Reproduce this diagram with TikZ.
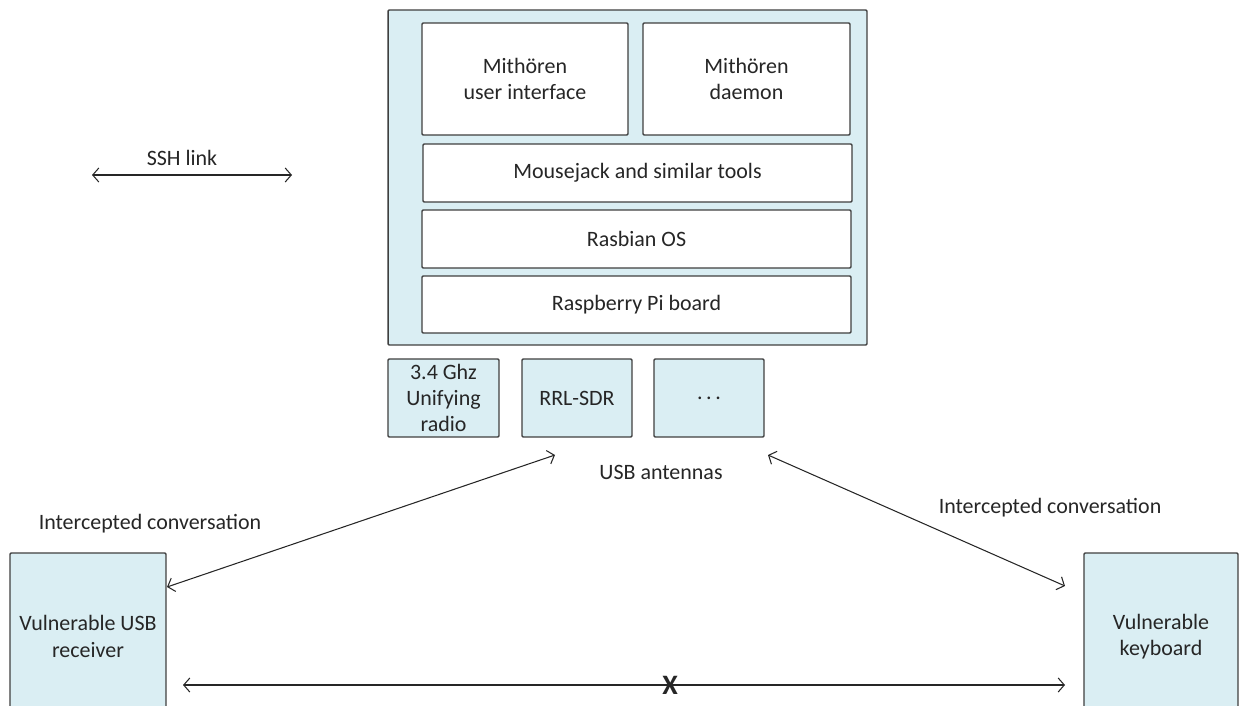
\documentclass[tikz,border=0pt]{standalone}
\usepackage{fontspec}
\setmainfont{Carlito}
\usetikzlibrary{arrows.meta}
\definecolor{paleblue}{HTML}{DAEEF3}
\definecolor{edgegray}{HTML}{3F3F3F}
\tikzset{
  layer/.style={draw=edgegray, fill=white, line width=0.8pt, rounded corners=0.6pt, align=center, inner sep=0pt, text=black!85},
  antenna/.style={layer, fill=paleblue},
  label/.style={text=black!85, inner sep=0pt},
  link/.style={line width=0.6pt, black!85, {Straight Barb[length=3.5pt,width=8pt]}-{Straight Barb[length=3.5pt,width=8pt]}}
}
\begin{document}
\begin{tikzpicture}[x=0.02cm, y=-0.02cm, font=\fontsize{12.5}{15}\selectfont]
        \useasboundingbox (0,0) rectangle (1241,706);
        \clip (0,0) rectangle (1241,706);
        % raspberry pi stack
        \node [antenna, minimum width=9.58cm, minimum height=6.70cm] (pi) at (627.5,177.5) {};
        \node [layer, minimum width=4.12cm, minimum height=2.24cm] (ui) at (525,79) {Mithören\\user interface};
        \node [layer, minimum width=4.14cm, minimum height=2.24cm] (daemon) at (746.5,79) {Mithören\\daemon};
        \node [layer, minimum width=8.58cm, minimum height=1.16cm] (tools) at (637.5,173) {Mousejack and similar tools};
        \node [layer, minimum width=8.58cm, minimum height=1.16cm] (os) at (636.5,239) {Rasbian OS};
        \node [layer, minimum width=8.58cm, minimum height=1.14cm] (board) at (636.5,304.5) {Raspberry Pi board};
        % antennas
        \node [antenna, minimum width=2.22cm, minimum height=1.56cm] (radio) at (443.5,398) {3.4 Ghz\\Unifying\\radio};
        \node [antenna, minimum width=2.20cm, minimum height=1.56cm] (sdr) at (577,398) {RRL-SDR};
        \node [antenna, minimum width=2.20cm, minimum height=1.56cm] (more) at (709,398) {.\,.\,.};
        \node [label] (usb) at (661,472) {USB antennas};
        % devices
        \node [antenna, minimum width=3.12cm, minimum height=3.34cm] (receiver) at (88,636.5) {Vulnerable USB\\receiver};
        \node [antenna, minimum width=3.08cm, minimum height=3.34cm] (keyboard) at (1161,636.5) {Vulnerable\\keyboard};
        \node [label] (leftconv) at (150,524) {Intercepted conversation};
        \node [label] (rightconv) at (1050,508) {Intercepted conversation};
        % ssh
        \node [label] (ssh) at (182,158) {SSH link};
        \coordinate (sshL) at (92,175);
        \coordinate (sshR) at (292,175);
        \draw [link] (sshL) -- (sshR);
        % links
        \coordinate (recin) at (167,587);
        \coordinate (sdrout) at (555,455);
        \coordinate (moreout) at (768,455);
        \coordinate (kbin) at (1065,586);
        \coordinate (recbot) at (183,685);
        \coordinate (kbbot) at (1065,685);
        \draw [link] (recin) -- (sdrout);
        \draw [link] (moreout) -- (kbin);
        \draw [link] (recbot) -- (kbbot);
        \node [label, font=\fontsize{16}{18}\selectfont\bfseries] (cut) at (670,685) {X};
    \end{tikzpicture}
\end{document}
